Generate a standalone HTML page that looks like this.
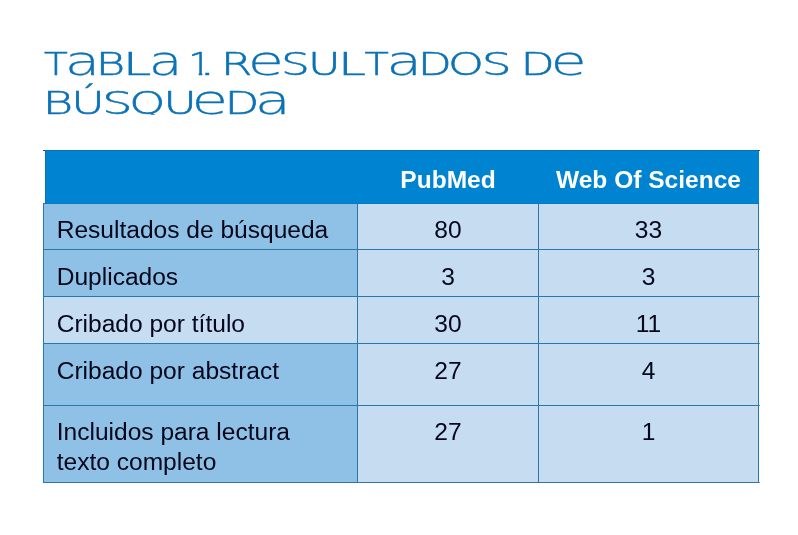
<!DOCTYPE html>
<html lang="es"><head><meta charset="utf-8"><title>Tabla 1. Resultados de búsqueda</title>
<style>
html,body{margin:0;padding:0;background:#fff;}
body{width:798px;height:535px;position:relative;overflow:hidden;font-family:"Liberation Sans",sans-serif;}
h1{margin:0;position:absolute;left:0;top:0;width:798px;height:0;line-height:0;font-size:0;white-space:nowrap;font-weight:200;font-family:"DejaVu Sans Light","DejaVu Sans",sans-serif;color:#0c72b6;}
h1 span{display:inline-block;width:0;height:0;line-height:0;overflow:visible;white-space:pre;vertical-align:baseline;transform-origin:0 0;font-weight:200;}
h1 .up{text-transform:uppercase;font-size:31.55px;-webkit-text-stroke:0.55px #0c72b6;}
h1 .lo{font-size:41.0px;-webkit-text-stroke:0.25px #0c72b6;}
h1 .sp{font-size:0;}
table{display:block;margin:0;padding:0;border:0;border-spacing:0;}
thead,tbody,tr{display:contents;}
th,td{display:block;margin:0;padding:0;border:0;font-weight:normal;text-align:left;}
.hd{position:absolute;left:45px;top:150px;width:714px;height:54px;background:#0084d1;box-shadow:inset 1px 1px 0 #0a74b4, inset 0 -1px 0 #0a7abf;}
.topline{position:absolute;left:43px;top:150px;width:717px;height:1px;background:#0c70ae;box-shadow:inset 2px 0 0 #35536a,inset -1px 0 0 #35536a;}
.cell{position:absolute;box-sizing:border-box;font-size:24.55px;color:#04061a;line-height:30px;white-space:nowrap;overflow:hidden;}
.c0{left:44px;width:313px;background:#8fc1e6;padding-left:12.7px;text-align:left;}
.c0.lt{background:#c5dcf1;}
.c1{left:358px;width:180px;background:#c5dcf1;text-align:center;}
.c2{left:539px;width:219px;background:#c5dcf1;text-align:center;}
.th{position:absolute;top:151px;height:54px;line-height:58px;color:#fff;font-weight:bold;font-size:24.55px;text-align:center;white-space:nowrap;}
.grid{position:absolute;background:#2b76ab;}
</style></head><body>
<h1><span class="up" style="transform:translate(43.94px,60.70px) scaleX(1.236);">T</span><span class="lo" style="transform:translate(64.64px,60.70px) scaleX(1.414);">a</span><span class="up" style="transform:translate(95.86px,60.70px) scaleX(1.428);">b</span><span class="up" style="transform:translate(122.64px,60.70px) scaleX(1.625);">l</span><span class="lo" style="transform:translate(148.78px,60.70px) scaleX(1.344);">a</span><span class="sp"> </span><span class="up" style="transform:translate(188.42px,60.70px) scaleX(1.148);clip-path:polygon(0 -40px,12.11px -40px,12.11px 12.92px,8.97px 12.92px,8.97px 8.66px,0 8.66px);">1</span><span class="up" style="transform:translate(198.01px,60.70px) scaleX(1.846);">.</span><span class="sp"> </span><span class="up" style="transform:translate(221.04px,60.70px) scaleX(1.432);">R</span><span class="lo" style="transform:translate(247.84px,60.70px) scaleX(1.436);">e</span><span class="up" style="transform:translate(281.06px,60.70px) scaleX(1.440);">s</span><span class="up" style="transform:translate(308.03px,60.70px) scaleX(1.409);">u</span><span class="up" style="transform:translate(337.99px,60.70px) scaleX(1.586);">l</span><span class="up" style="transform:translate(364.62px,60.70px) scaleX(1.264);">t</span><span class="lo" style="transform:translate(386.29px,60.70px) scaleX(1.431);">a</span><span class="up" style="transform:translate(418.08px,60.70px) scaleX(1.386);">d</span><span class="up" style="transform:translate(447.88px,60.70px) scaleX(1.448);">o</span><span class="up" style="transform:translate(481.63px,60.70px) scaleX(1.488);">s</span><span class="sp"> </span><span class="up" style="transform:translate(520.66px,60.70px) scaleX(1.391);">d</span><span class="lo" style="transform:translate(550.44px,60.70px) scaleX(1.436);">e</span><span class="sp"> </span><span class="up" style="transform:translate(42.77px,99.60px) scaleX(1.476);">b</span><span class="up" style="transform:translate(71.20px,99.60px) scaleX(1.447);">ú</span><span class="up" style="transform:translate(102.27px,99.60px) scaleX(1.508);">s</span><span class="up" style="transform:translate(129.36px,99.60px) scaleX(1.453);clip-path:polygon(-5px -40px,60px -40px,60px 12.22px,-5px 12.22px);">q</span><span class="up" style="transform:translate(163.42px,99.60px) scaleX(1.440);">u</span><span class="lo" style="transform:translate(191.39px,99.60px) scaleX(1.451);">e</span><span class="up" style="transform:translate(224.86px,99.60px) scaleX(1.419);">d</span><span class="lo" style="transform:translate(254.77px,99.60px) scaleX(1.437);">a</span></h1>
<div class="grid" style="left:43px;top:203px;width:716px;height:280px;"></div>
<div class="grid" style="left:759px;top:249px;width:1px;height:1px;box-shadow:0 47px 0 #2b76ab,0 94px 0 #2b76ab,0 156px 0 #2b76ab,0 233px 0 #2b76ab;opacity:.8"></div>
<table>
<thead><tr>
<th class="hd"></th>
<th class="th" scope="col" style="left:358px;width:180px;">PubMed</th>
<th class="th" scope="col" style="left:539px;width:219px;">Web Of Science</th>
</tr></thead>
<tbody>
<tr><th scope="row" class="cell c0" style="top:204px;height:45px;"><div style="margin-top:11.39px">Resultados de búsqueda</div></th><td class="cell c1" style="top:204px;height:45px;"><div style="margin-top:11.39px">80</div></td><td class="cell c2" style="top:204px;height:45px;"><div style="margin-top:11.39px">33</div></td></tr>
<tr><th scope="row" class="cell c0" style="top:250px;height:46px;"><div style="margin-top:12.39px">Duplicados</div></th><td class="cell c1" style="top:250px;height:46px;"><div style="margin-top:12.39px">3</div></td><td class="cell c2" style="top:250px;height:46px;"><div style="margin-top:12.39px">3</div></td></tr>
<tr><th scope="row" class="cell c0 lt" style="top:297px;height:46px;"><div style="margin-top:12.39px">Cribado por título</div></th><td class="cell c1" style="top:297px;height:46px;"><div style="margin-top:12.39px">30</div></td><td class="cell c2" style="top:297px;height:46px;"><div style="margin-top:12.39px">11</div></td></tr>
<tr><th scope="row" class="cell c0" style="top:344px;height:61px;"><div style="margin-top:12.39px">Cribado por abstract</div></th><td class="cell c1" style="top:344px;height:61px;"><div style="margin-top:12.39px">27</div></td><td class="cell c2" style="top:344px;height:61px;"><div style="margin-top:12.39px">4</div></td></tr>
<tr><th scope="row" class="cell c0" style="top:406px;height:76px;"><div style="margin-top:11.39px">Incluidos para lectura<br>texto completo</div></th><td class="cell c1" style="top:406px;height:76px;"><div style="margin-top:11.39px">27</div></td><td class="cell c2" style="top:406px;height:76px;"><div style="margin-top:11.39px">1</div></td></tr>
</tbody></table>
<div class="topline"></div>
</body></html>
